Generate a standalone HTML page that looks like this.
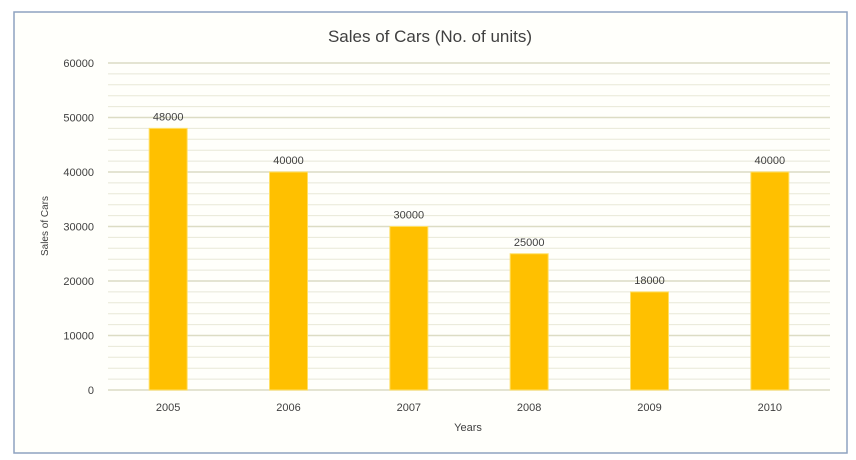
<!DOCTYPE html>
<html><head><meta charset="utf-8"><style>
body{margin:0;background:#fff;}
svg{display:block;font-family:"Liberation Sans",sans-serif;}
</style></head><body>
<svg id="chart" width="856" height="460">
<rect x="14" y="12" width="833" height="441" fill="#fffffb" stroke="#8ea2c0" stroke-width="1.5"/>
<text x="430" y="42" text-anchor="middle" font-size="17" fill="#404040">Sales of Cars (No. of units)</text>
<text transform="translate(48,226) rotate(-90)" text-anchor="middle" font-size="10" fill="#404040">Sales of Cars</text>
<text x="468" y="431" text-anchor="middle" font-size="11" fill="#404040">Years</text>
<g id="grid"></g><g id="bars"></g>
</svg>
<script>
const categories=["2005","2006","2007","2008","2009","2010"];
const sales=[48000,40000,30000,25000,18000,40000];
const yTicks=[0,10000,20000,30000,40000,50000,60000];
const NS="http://www.w3.org/2000/svg";
const x0=108,x1=830,yBase=390,yTop=63,yMax=60000;
const y=v=>yBase-(v/yMax)*(yBase-yTop);
const band=(x1-x0)/categories.length;
const xc=i=>x0+band*(i+0.5);
const grid=document.getElementById('grid'),bars=document.getElementById('bars');
function mk(t,a,p){const e=document.createElementNS(NS,t);for(const k in a)e.setAttribute(k,a[k]);p.appendChild(e);return e;}
for(let v=0;v<=yMax;v+=2000){
  const major=v%10000===0;
  const l=mk('line',{x1:x0,x2:x1,y1:y(v),y2:y(v),stroke:major?'#dcdcc4':'#e8e8d8','stroke-width':major?1.5:1},grid);
  
  
}
yTicks.forEach(v=>{
  const t=mk('text',{x:94,y:y(v)+4,'text-anchor':'end','font-size':11,fill:'#404040'},grid);
  t.textContent=v;
  
  
});
categories.forEach((c,i)=>{
  const w=38;
  const r=mk('rect',{x:xc(i)-w/2,y:y(sales[i]),width:w,height:yBase-y(sales[i]),fill:'#ffc000',stroke:'#ffe066','stroke-width':1},bars);
  
  
  const lb=mk('text',{x:xc(i),y:y(sales[i])-8,'text-anchor':'middle','font-size':11,fill:'#404040'},bars);
  lb.textContent=sales[i];
  
  
  const xl=mk('text',{x:xc(i),y:411,'text-anchor':'middle','font-size':11,fill:'#404040'},bars);
  xl.textContent=c;
  
  
});
</script>
</body></html>
